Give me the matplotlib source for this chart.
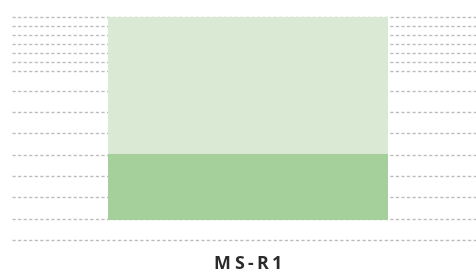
import matplotlib
matplotlib.use("Agg")
import matplotlib.pyplot as plt

# ---- data ----
categories = ["MS-R1"]
bar_base = [0.96]
seg_dark = [3.07]
seg_light = [6.44]
grid_levels = [0, 1, 2, 3, 4, 5, 6, 7, 7.94, 8.36, 8.78, 9.2, 9.62, 10.05, 10.47]

# ---- style ----
light_green = "#d9e9d4"
dark_green = "#a5d09b"
grid_color = "#bdbdbd"
text_color = "#2a2a2a"

plt.rcParams["lines.scale_dashes"] = False

W, H = 477, 276
fig = plt.figure(figsize=(W / 100, H / 100), dpi=100)
ax = fig.add_axes([0, 0, 1, 1])
ax.set_axis_off()

px_per_unit_y = 21.33
ax.set_ylim((240 - H) / px_per_unit_y, 240 / px_per_unit_y)
px_per_unit_x = 280.0
cx = 248.0
ax.set_xlim((0 - cx) / px_per_unit_x, (W - cx) / px_per_unit_x)

for g in grid_levels:
    ax.axhline(g, xmin=12 / W, xmax=1.0, color=grid_color, lw=1.0,
               linestyle=(0, (2.3, 1.7)), zorder=1)

x = list(range(len(categories)))
ax.bar(x, seg_dark, bottom=bar_base, width=1.0, color=dark_green, zorder=2, linewidth=0)
tops = [b + d for b, d in zip(bar_base, seg_dark)]
ax.bar(x, seg_light, bottom=tops, width=1.0, color=light_green, zorder=2, linewidth=0)

# category label with letter spacing
fig.canvas.draw()
renderer = fig.canvas.get_renderer()
label_y_px = 264.0
spacing_px = 3.6
fs = 12.8
fam = ["Open Sans", "DejaVu Sans"]
for xi, cat in zip(x, categories):
    widths = []
    for ch in cat:
        t = fig.text(0, 0, ch, fontsize=fs, fontweight="bold", family=fam)
        widths.append(t.get_window_extent(renderer).width)
        t.remove()
    total = sum(widths) + spacing_px * (len(cat) - 1)
    center_px = cx + xi * px_per_unit_x
    start = center_px - total / 2
    for ch, w in zip(cat, widths):
        fig.text(start / W, 1 - label_y_px / H, ch, fontsize=fs, fontweight="bold",
                 family=fam, color=text_color, ha="left", va="center")
        start += w + spacing_px

fig.savefig("out.png", dpi=100)
